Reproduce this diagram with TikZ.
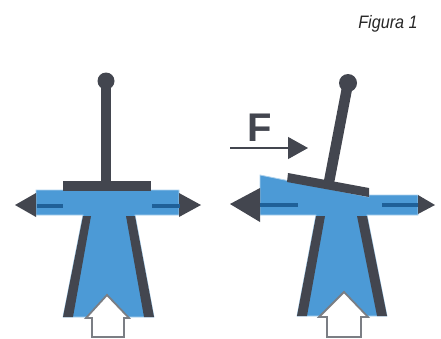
\documentclass[tikz,border=0pt]{standalone}
\usepackage{fontspec}
\setmainfont{Liberation Sans}
\usepackage{xcolor}
\usetikzlibrary{arrows.meta}
\definecolor{azzurro}{HTML}{4C9AD6}
\definecolor{scuro}{HTML}{43464F}
\definecolor{flusso}{HTML}{1F6098}
\tikzset{
  corpo/.style    = {fill=azzurro, draw=azzurro!45, line width=0.8pt},
  parete/.style   = {fill=scuro, draw=none},
  striscia/.style = {line width=4.5pt, draw=flusso},
  stelo/.style    = {line width=10.5pt, draw=scuro},
  ingresso/.style = {fill=white, draw=scuro!70, line width=1.8pt, line join=miter},
  forza/.style    = {-{Triangle[length=20pt,width=22pt]}, line width=1.2pt, draw=scuro, color=scuro},
  etichetta/.style= {inner sep=0pt, text=scuro},
}
\begin{document}
\begin{tikzpicture}[x=1pt,y=-1pt]
  \useasboundingbox (0,0) rectangle (441,338);
  \node[etichetta, text=black!85, font=\fontsize{18}{18}\selectfont\itshape, xscale=0.9] (titolo) at (388,24) {Figura 1};

  % valvola a riposo
  \path[corpo] (36,190) -- (179,190) -- (179,215) -- (135,215) -- (154,317) -- (63,317) -- (83,215) -- (36,215) -- cycle;
  \fill[parete] (83,216) -- (91,216) -- (73,317) -- (63,317) -- cycle;
  \fill[parete] (126,216) -- (135,216) -- (154,317) -- (144,317) -- cycle;
  \fill[parete] (36,193) -- (15,205) -- (36,217) -- cycle;
  \fill[parete] (179,193) -- (201,205) -- (179,217) -- cycle;
  \draw[striscia] (37,206) -- (63,206);
  \draw[striscia] (152,206) -- (180,206);
  \node[circle, fill=scuro, minimum size=17pt, inner sep=0pt] (pomoA) at (106,81) {};
  \coordinate (baseA) at (106,185);
  \draw[stelo] (pomoA.center) -- (baseA);
  \fill[parete] (63,181) rectangle (151,191);
  \draw[ingresso] (107,295) -- (129,318) -- (124,318) -- (124,337) -- (92,337) -- (92,318) -- (86,318) -- cycle;

  % valvola inclinata
  \path[corpo] (260,175) -- (369,197) -- (369,195) -- (418,195) -- (418,215) -- (367,215) -- (387,316) -- (297,316) -- (316,215) -- (260,215) -- cycle;
  \fill[parete] (316,216) -- (325,216) -- (307,316) -- (297,316) -- cycle;
  \fill[parete] (357,216) -- (367,216) -- (387,316) -- (377,316) -- cycle;
  \fill[parete] (260,188) -- (230,204) -- (260,222) -- cycle;
  \fill[parete] (418,195) -- (435,205) -- (418,214) -- cycle;
  \draw[striscia] (260,205) -- (298,205);
  \draw[striscia] (382,205) -- (418,205);
  \node[circle, fill=scuro, minimum size=18pt, inner sep=0pt] (pomoB) at (348,83) {};
  \coordinate (baseB) at (329,182);
  \draw[stelo] (pomoB.center) -- (baseB);
  \fill[parete] (288,173) -- (369,188) -- (369,197) -- (287,182) -- cycle;
  \draw[ingresso] (344,292) -- (368,317) -- (361,317) -- (361,337) -- (327,337) -- (327,317) -- (319,317) -- cycle;

  % forza
  \node[etichetta, font=\fontsize{40}{40}\selectfont\bfseries] (effe) at (260,128) {F};
  \coordinate (forzaA) at (230,148);
  \coordinate (forzaB) at (308,148);
  \draw[forza] (forzaA) -- (forzaB);
\end{tikzpicture}
\end{document}
